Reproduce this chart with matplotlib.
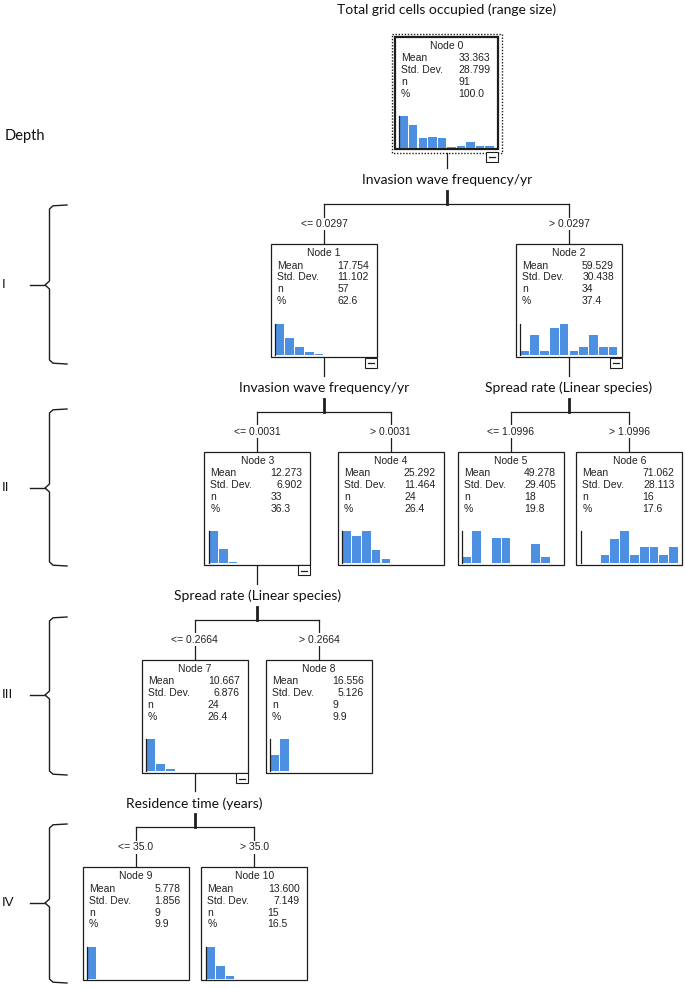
import numpy as np
import matplotlib
matplotlib.use('Agg')
import matplotlib.pyplot as plt
from matplotlib.patches import Rectangle

#==========================================
# data read off the tree
#==========================================
title = "Total grid cells occupied (range size)"
node_names = ["Node %d" % i for i in range(11)]
mean_vals = ['33.363', '17.754', '59.529', '12.273', '25.292', '49.278',
             '71.062', '10.667', '16.556', '5.778', '13.600']
sd_vals = ['28.799', '11.102', '30.438', '6.902', '11.464', '29.405',
           '28.113', '6.876', '5.126', '1.856', '7.149']
n_vals = ['91', '57', '34', '33', '24', '18', '16', '24', '9', '9', '15']
pct_vals = ['100.0', '62.6', '37.4', '36.3', '26.4', '19.8', '17.6',
            '26.4', '9.9', '9.9', '16.5']

# histogram counts per node (10 bins of range size)
hist_counts = [
    [30, 21, 9, 10, 9, 1, 2, 5, 2, 2],
    [29, 16, 8, 3, 1, 0, 0, 0, 0, 0],
    [1, 5, 1, 7, 8, 1, 2, 5, 2, 2],
    [22, 10, 1, 0, 0, 0, 0, 0, 0, 0],
    [7, 6, 7, 3, 1, 0, 0, 0, 0, 0],
    [1, 5, 0, 4, 4, 0, 0, 3, 1, 0],
    [0, 0, 1, 3, 4, 1, 2, 2, 1, 2],
    [19, 4, 1, 0, 0, 0, 0, 0, 0, 0],
    [3, 6, 0, 0, 0, 0, 0, 0, 0, 0],
    [9, 0, 0, 0, 0, 0, 0, 0, 0, 0],
    [10, 4, 1, 0, 0, 0, 0, 0, 0, 0],
]

split_parent = [0, 1, 2, 3, 7]
split_children = [(1, 2), (3, 4), (5, 6), (7, 8), (9, 10)]
split_var = ['Invasion wave frequency/yr', 'Invasion wave frequency/yr',
             'Spread rate (Linear species)', 'Spread rate (Linear species)',
             'Residence time (years)']
split_cond = [('<= 0.0297', '> 0.0297'), ('<= 0.0031', '> 0.0031'),
              ('<= 1.0996', '> 1.0996'), ('<= 0.2664', '> 0.2664'),
              ('<= 35.0', '> 35.0')]

depth_labels = ['I', 'II', 'III', 'IV']

#==========================================
# layout (pixel coords, y down)
#==========================================
W, H = 685, 988
node_cx = [446.7, 324, 569, 257.5, 390.8, 511, 629.5, 194.7, 319, 135.8, 254.5]
node_depth = [0, 1, 1, 2, 2, 2, 2, 3, 3, 4, 4]
level_top = [36.7, 244, 451.8, 659.6, 867.4]
bw, bh = 106, 113
bracket_span = [(205, 364, 285), (409, 566, 488), (617, 775, 695), (824, 983, 903)]

lc = '#1e1e1e'
bar_c = '#4d8fe1'
fs = 7.5

plt.rcParams['font.family'] = 'sans-serif'
plt.rcParams['font.sans-serif'] = ['Liberation Sans', 'DejaVu Sans']

fig = plt.figure(figsize=(W / 100., H / 100.), dpi=100)
ax = fig.add_axes([0, 0, 1, 1])
ax.set_xlim(0, W)
ax.set_ylim(H, 0)
ax.axis('off')


def text_width(s, size):
    em = size * 100 / 72.0
    return sum(0.278 if c == '.' else 0.556 for c in s) * em


def box_geom(i):
    top = level_top[node_depth[i]]
    if i == 0:
        return node_cx[i] - 51.7, top, 103.3, 112.6
    return node_cx[i] - bw / 2., top, bw, bh


for i in range(11):
    x0, top, w, h = box_geom(i)
    lw = 1.6 if i == 0 else 0.9
    ax.add_patch(Rectangle((x0, top), w, h, fc='white', ec=lc, lw=lw, zorder=2))
    if i == 0:
        ax.add_patch(Rectangle((x0 - 3.3, top - 2.7), w + 6.6, h + 6.1, fc='none',
                               ec=lc, lw=1.0, ls=(0, (1, 1.2)), zorder=2))
    ax.text(x0 + w / 2., top + 9, node_names[i], fontsize=fs, ha='center',
            va='center', color='#222222', zorder=3)
    right = x0 + w - 8
    col = right - text_width(mean_vals[i], fs)
    rows = [('Mean', mean_vals[i], 'r'), ('Std. Dev.', sd_vals[i], 'r'),
            ('n', n_vals[i], 'l'), ('%', pct_vals[i], 'l')]
    for k, (lab, val, al) in enumerate(rows):
        yy = top + 21.5 + 11.8 * k
        ax.text(x0 + 6, yy, lab, fontsize=fs, ha='left', va='center',
                color='#222222', zorder=3)
        if al == 'r':
            ax.text(right, yy, val, fontsize=fs, ha='right', va='center',
                    color='#222222', zorder=3)
        else:
            ax.text(col, yy, val, fontsize=fs, ha='left', va='center',
                    color='#222222', zorder=3)

    # histogram inside node
    hx0 = x0 + 4
    hw = w - 8
    base = top + h - 1.5
    hax = fig.add_axes([hx0 / W, 1 - base / H, hw / W, 32. / H])
    counts = np.array(hist_counts[i])
    hax.bar(np.arange(10) + 0.5, counts, width=0.88, color=bar_c, lw=0)
    hax.set_xlim(0, 10)
    hax.set_ylim(0, counts.max())
    hax.set_facecolor('none')
    for s in ['top', 'right', 'bottom']:
        hax.spines[s].set_visible(False)
    hax.spines['left'].set_color(lc)
    hax.spines['left'].set_linewidth(0.9)
    hax.set_xticks([])
    hax.set_yticks([])

# collapse markers on split nodes
for p in split_parent:
    x0, top, w, h = box_geom(p)
    r = x0 + w
    b = top + h + (2.5 if p == 0 else 0.5)
    ax.add_patch(Rectangle((r - 12, b), 12, 10, fc='white', ec=lc, lw=0.8, zorder=4))
    ax.plot([r - 9, r - 3], [b + 5.5, b + 5.5], color=lc, lw=0.9, zorder=5)

# split connectors
for p, (c1, c2), var, (t1, t2) in zip(split_parent, split_children, split_var, split_cond):
    x0, top, w, h = box_geom(p)
    px = node_cx[p]
    T = level_top[node_depth[c1]]
    bottom = top + h + (3.4 if p == 0 else 0)
    ax.plot([px, px], [bottom, T - 76], color=lc, lw=0.9, zorder=1)
    ax.text(px, T - 64, var, fontsize=10, family='Lato', ha='center',
            va='center', color='#111111')
    ax.plot([px, px], [T - 53, T - 40], color=lc, lw=2.0, zorder=1)
    ax.plot([node_cx[c1], node_cx[c2]], [T - 40, T - 40], color=lc, lw=0.9)
    for c, t in [(c1, t1), (c2, t2)]:
        ax.plot([node_cx[c], node_cx[c]], [T - 40, T], color=lc, lw=0.9, zorder=1)
        ax.text(node_cx[c], T - 20, t, fontsize=fs, ha='center', va='center',
                color='#222222', zorder=3,
                bbox=dict(fc='white', ec='none', pad=1.0))

ax.text(node_cx[0], 10, title, fontsize=10, family='Lato', ha='center',
        va='center', color='#111111')

# depth brackets
ax.text(5, 136, 'Depth', fontsize=10.5, family='Lato', ha='left', va='center',
        color='#111111')
for lab, (y0, y1, ym) in zip(depth_labels, bracket_span):
    xs = [67, 53, 49.5, 49.5, 45, 49.5, 49.5, 53, 67]
    ys = [y0, y0 + 0.8, y0 + 4, ym - 4, ym, ym + 4, y1 - 4, y1 - 0.8, y1]
    ax.plot(xs, ys, color=lc, lw=1.0)
    ax.plot([30, 45], [ym, ym], color=lc, lw=1.0)
    ax.text(2, ym, lab, fontsize=9.5, ha='left', va='center', color='#111111')

fig.savefig('out.png', dpi=100)
